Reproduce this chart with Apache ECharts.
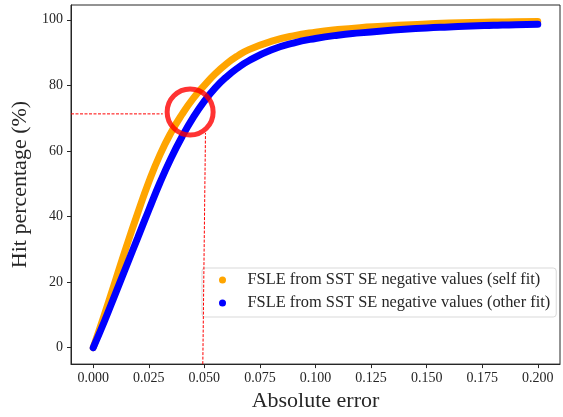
<!DOCTYPE html>
<html>
<head>
<meta charset="utf-8">
<script src="https://cdn.jsdelivr.net/npm/echarts@6/dist/echarts.min.js"></script>
<style>html,body{margin:0;padding:0;background:#fff}#c{width:563px;height:417px}</style>
</head>
<body>
<div id="c"></div>
<script>
// Data
const xValues = [0, 0.005, 0.01, 0.015, 0.02, 0.025, 0.03, 0.035, 0.04, 0.045, 0.05, 0.055, 0.06, 0.065, 0.07, 0.08, 0.09, 0.1, 0.11, 0.12, 0.13, 0.14, 0.15, 0.16, 0.17, 0.18, 0.19, 0.2];
const selfFit  = [0, 10, 20.5, 31, 41, 50.5, 58.8, 65.6, 71.2, 76, 80, 83.6, 86.6, 89, 90.9, 93.4, 95.1, 96.2, 97, 97.6, 98, 98.4, 98.7, 99, 99.2, 99.3, 99.4, 99.5];
const otherFit = [0, 8, 16.5, 25, 33.5, 42, 50.3, 57.8, 64.4, 70.2, 75.2, 79.3, 82.6, 85.3, 87.5, 90.8, 92.9, 94.3, 95.3, 96, 96.6, 97.1, 97.5, 97.8, 98.1, 98.3, 98.5, 98.6];
const seriesNames = ['FSLE from SST SE negative values (self fit)', 'FSLE from SST SE negative values (other fit)'];
const xTicks = [0, 0.025, 0.05, 0.075, 0.1, 0.125, 0.15, 0.175, 0.2];
const yTicks = [0, 20, 40, 60, 80, 100];
// Annotation (red circle and dashed guides)
const markerPoint = [0.0436, 71.9];
const hGuide = [[-0.01, 71.3], [0.0313, 71.3]];
const vGuide = [[0.0493, -5], [0.0505, 65.5]];

const font = 'Liberation Serif';
const txt = '#262626';
const chart = echarts.init(document.getElementById('c'));
chart.setOption({
  animation: false,
  backgroundColor: '#fff',
  grid: { left: 71, right: 3, top: 5, bottom: 47, show: true, borderColor: '#262626', borderWidth: 1, backgroundColor: '#fff' },
  xAxis: {
    type: 'value', min: -0.01, max: 0.21,
    name: 'Absolute error', nameLocation: 'middle', nameGap: 25,
    nameTextStyle: { fontFamily: font, fontSize: 22, color: txt },
    axisLine: { show: true, onZero: false, lineStyle: { color: '#262626', width: 1 } },
    axisTick: { show: true, length: 4, customValues: xTicks, lineStyle: { color: '#262626' } },
    axisLabel: { customValues: xTicks, fontFamily: font, fontSize: 14, color: txt, margin: 7, formatter: v => v.toFixed(3) },
    splitLine: { show: false }
  },
  yAxis: {
    type: 'value', min: -5, max: 104.5,
    name: 'Hit percentage (%)', nameLocation: 'middle', nameGap: 30,
    nameTextStyle: { fontFamily: font, fontSize: 22, color: txt },
    axisLine: { show: true, onZero: false, lineStyle: { color: '#262626', width: 1 } },
    axisTick: { show: true, length: 4, customValues: yTicks, lineStyle: { color: '#262626' } },
    axisLabel: { customValues: yTicks, fontFamily: font, fontSize: 14, color: txt, margin: 8 },
    splitLine: { show: false }
  },
  legend: {
    data: seriesNames,
    orient: 'vertical', left: 202, top: 268,
    padding: [3, 6, 5, 17],
    itemWidth: 40, itemHeight: 7, itemGap: 5,
    icon: 'circle',
    backgroundColor: 'rgba(255,255,255,0.85)', borderColor: '#d9d9d9', borderWidth: 1, borderRadius: 3,
    textStyle: { fontFamily: font, fontSize: 16.4, color: txt, lineHeight: 18 }
  },
  series: [
    { name: seriesNames[0], type: 'line', data: xValues.map((x, i) => [x, selfFit[i]]), smooth: 0.5, showSymbol: false, symbol: 'circle',
      itemStyle: { color: '#FFA500' }, lineStyle: { color: '#FFA500', width: 7, cap: 'round' }, z: 2 },
    { name: seriesNames[1], type: 'line', data: xValues.map((x, i) => [x, otherFit[i]]), smooth: 0.5, showSymbol: false, symbol: 'circle',
      itemStyle: { color: '#0000FF' }, lineStyle: { color: '#0000FF', width: 7, cap: 'round' }, z: 3 },
    { name: 'hguide', type: 'line', data: hGuide, showSymbol: false, lineStyle: { color: '#ff0000', width: 1, type: [3, 1.5] }, z: 4 },
    { name: 'vguide', type: 'line', data: vGuide, showSymbol: false, lineStyle: { color: '#ff0000', width: 1, type: [3, 1.5] }, z: 4 },
    { name: 'marker', type: 'scatter', data: [markerPoint], symbol: 'circle', symbolSize: 46,
      itemStyle: { color: 'rgba(0,0,0,0)', borderColor: '#ff0000', borderWidth: 5 }, z: 5 }
  ]
});
</script>
</body>
</html>
